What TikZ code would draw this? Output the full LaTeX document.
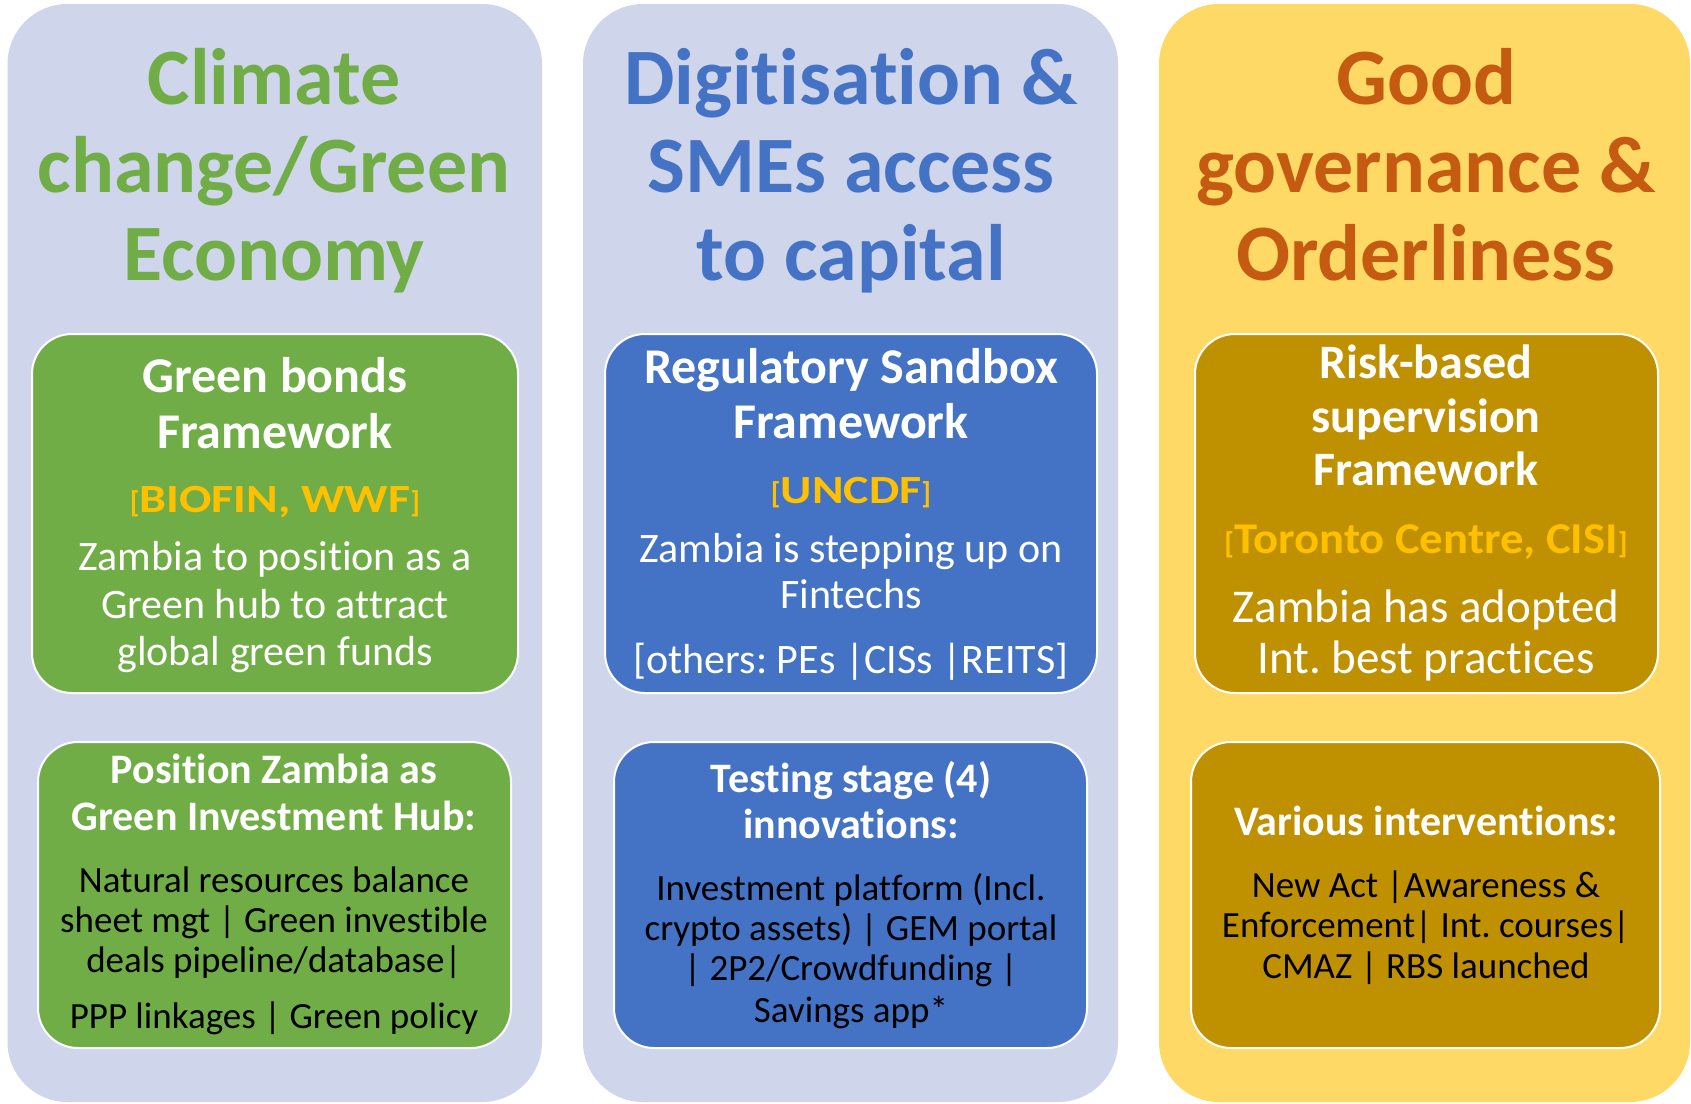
\documentclass[tikz,border=0pt]{standalone}
\usepackage{fontspec}
\setmainfont[Ligatures={NoCommon}]{Carlito}
\newfontfamily\brkA[FakeStretch=1.2,Ligatures={NoCommon}]{Carlito}
\newfontfamily\brkB[FakeStretch=1.06,Ligatures={NoCommon}]{Carlito}
\definecolor{lav}{HTML}{CFD5EA}
\definecolor{yel}{HTML}{FFD966}
\definecolor{grn}{HTML}{70AD47}
\definecolor{blu}{HTML}{4472C4}
\definecolor{gld}{HTML}{BF9000}
\definecolor{org}{HTML}{C55A11}
\definecolor{amb}{HTML}{FFC000}
\frenchspacing
\tikzset{
  panel/.style={rounded corners=30pt},
  inbox/.style={rounded corners=20pt, draw=white, line width=1pt},
  ln/.style={anchor=base, inner sep=0pt, outer sep=0pt},
  ttl/.style={ln, font=\fontsize{40}{44}\selectfont\bfseries},
  hd/.style={ln, text=white, font=\fontsize{25}{28}\selectfont\bfseries},
  hdb/.style={ln, text=white, font=\fontsize{24}{27}\selectfont\bfseries},
  bw/.style={ln, text=white, font=\fontsize{21}{24}\selectfont},
  bwl/.style={ln, text=white, font=\fontsize{23.5}{26}\selectfont},
  shd/.style={ln, text=white, font=\fontsize{21}{24}\selectfont\bfseries},
  sbd/.style={ln, text=black, font=\fontsize{18.5}{21}\selectfont},
  brk/.style={ln, text=amb},
}
\newcommand{\sbr}[1]{{\fontsize{15}{17}\selectfont\bfseries #1}}
\begin{document}
\begin{tikzpicture}[x=0.5pt,y=-0.5pt]
\useasboundingbox[fill=white] (0,0) rectangle (1691,1103);
% panels
\fill[panel, lav] (7.5,4) rectangle (542,1102);
\fill[panel, lav] (583,4) rectangle (1118,1102);
\fill[panel, yel] (1159,4) rectangle (1690,1102);
% inner boxes
\filldraw[inbox, fill=grn] (32,334) rectangle (518,693);
\filldraw[inbox, fill=grn] (38,742) rectangle (511,1048);
\filldraw[inbox, fill=blu] (605,334) rectangle (1097,693);
\filldraw[inbox, fill=blu] (614,742) rectangle (1087,1048);
\filldraw[inbox, fill=gld] (1195,334) rectangle (1658,693);
\filldraw[inbox, fill=gld] (1191,742) rectangle (1660,1048);

% column 1
\node[ttl, text=grn] (t1a) at (274,104) {Climate};
\node[ttl, text=grn] (t1b) at (274,192) {change/Green};
\node[ttl, text=grn] (t1c) at (274,280) {Economy};
\node[hd] (h1a) at (275,392) {Green bonds};
\node[hd] (h1b) at (275,448) {Framework};
\node[brk] (k1) at (275,512) {\sbr{[}{\brkA\bfseries\fontsize{20}{24}\selectfont BIOFIN, WWF}\sbr{]}};
\node[bw] (x1a) at (275,570) {Zambia to position as a};
\node[bw] (x1b) at (275,618) {Green hub to attract};
\node[bw] (x1c) at (275,665) {global green funds};
\node[shd] (s1a) at (274,783) {Position Zambia as};
\node[shd] (s1b) at (274,830) {Green Investment Hub:};
\node[sbd] (d1a) at (274,892) {Natural resources balance};
\node[sbd] (d1b) at (274,932) {sheet mgt | Green investible};
\node[sbd] (d1c) at (274,972) {deals pipeline/database|};
\node[sbd] (d1d) at (274,1028) {PPP linkages | Green policy};

% column 2
\node[ttl, text=blu] (t2a) at (851,104) {Digitisation \&};
\node[ttl, text=blu] (t2b) at (851,192) {SMEs access};
\node[ttl, text=blu] (t2c) at (851,280) {to capital};
\node[hd] (h2a) at (851,383) {Regulatory Sandbox};
\node[hd] (h2b) at (851,438) {Framework};
\node[brk] (k2) at (851,503) {\sbr{[}{\brkA\bfseries\fontsize{20}{24}\selectfont UNCDF}\sbr{]}};
\node[bw] (x2a) at (851,562) {Zambia is stepping up on};
\node[bw] (x2b) at (851,608) {Fintechs};
\node[bw] (x2c) at (851,673) {[others: PEs |CISs |REITS]};
\node[shd] (s2a) at (851,792) {Testing stage (4)};
\node[shd] (s2b) at (851,838) {innovations:};
\node[sbd] (d2a) at (851,900) {Investment platform (Incl.};
\node[sbd] (d2b) at (851,940) {crypto assets) | GEM portal};
\node[sbd] (d2c) at (851,980) {| 2P2/Crowdfunding |};
\node[sbd] (d2d) at (851,1022) {Savings app*};

% column 3
\node[ttl, text=org] (t3a) at (1426,104) {Good};
\node[ttl, text=org] (t3b) at (1426,192) {governance \&};
\node[ttl, text=org] (t3c) at (1426,280) {Orderliness};
\node[hdb] (h3a) at (1426,378) {Risk-based};
\node[hdb] (h3b) at (1426,432) {supervision};
\node[hdb] (h3c) at (1426,485) {Framework};
\node[brk] (k3) at (1426,553) {\sbr{[}{\brkB\bfseries\fontsize{22}{26}\selectfont Toronto Centre, CISI}\sbr{]}};
\node[bwl] (x3a) at (1426,622) {Zambia has adopted};
\node[bwl] (x3b) at (1426,673) {Int. best practices};
\node[shd] (s3a) at (1426,835) {Various interventions:};
\node[sbd] (d3a) at (1426,897) {New Act |Awareness \&};
\node[sbd] (d3b) at (1426,937) {Enforcement| Int. courses|};
\node[sbd] (d3c) at (1426,978) {CMAZ | RBS launched};
\end{tikzpicture}
\end{document}
